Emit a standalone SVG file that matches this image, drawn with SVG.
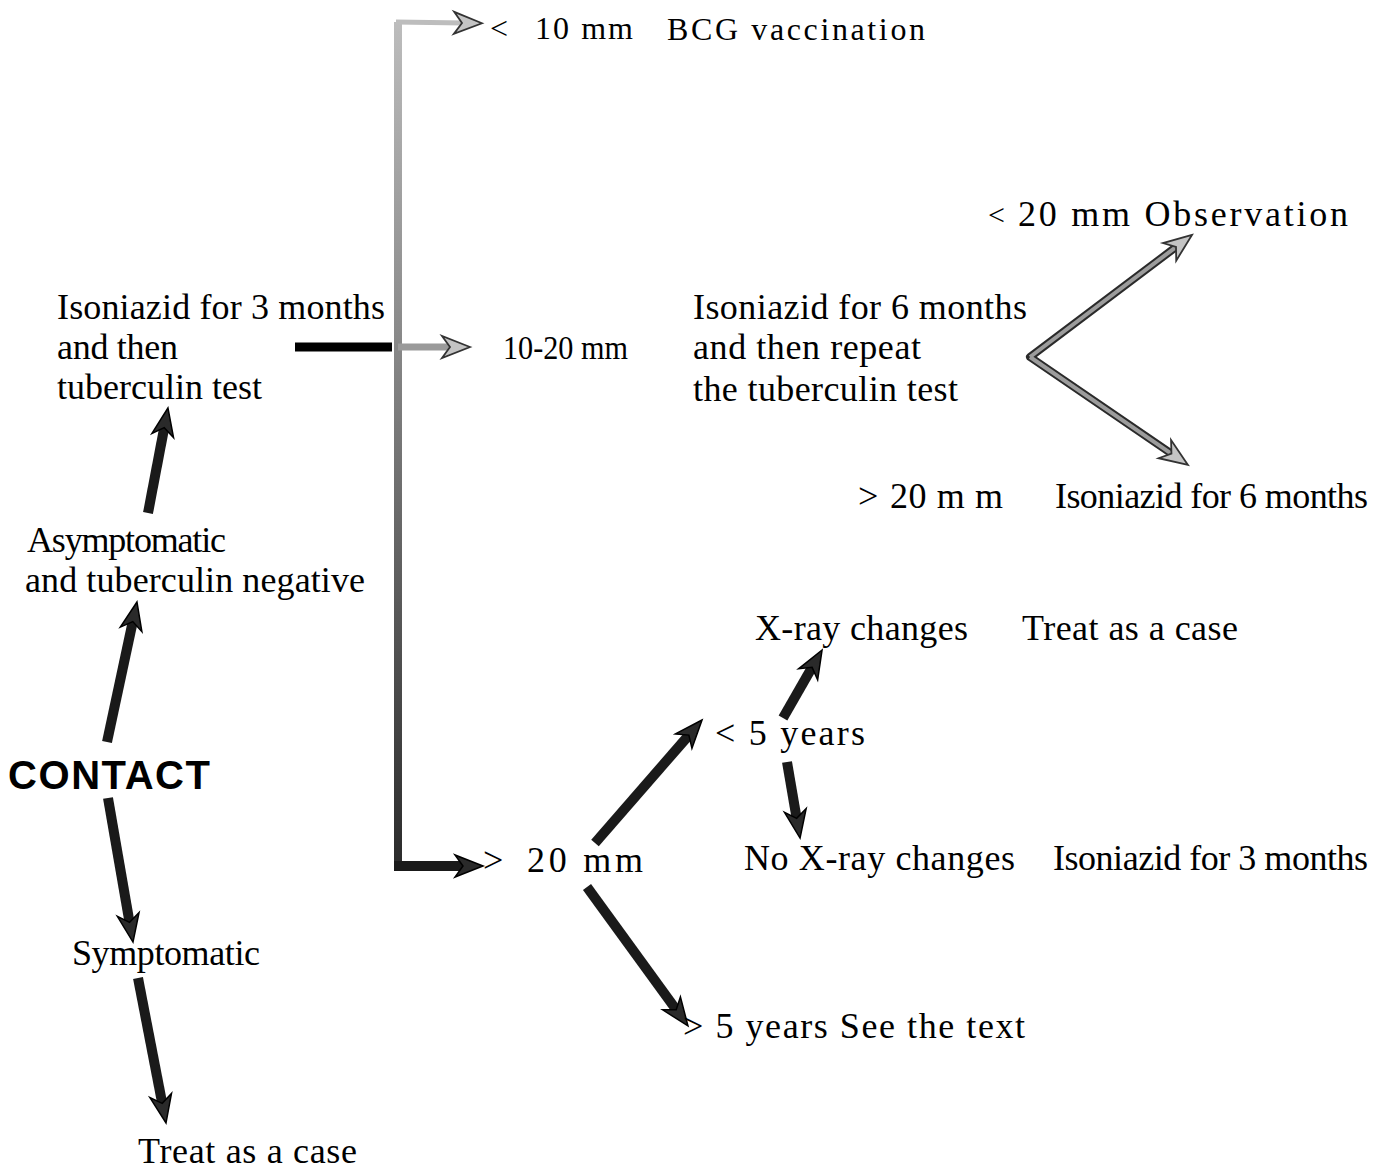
<svg xmlns="http://www.w3.org/2000/svg" width="1386" height="1171" viewBox="0 0 1386 1171">
<style>
.t{font-family:"Liberation Serif","Times New Roman",serif;font-size:36px;fill:#000}
.s{font-size:32px}
.c{font-family:"Liberation Sans",Arial,sans-serif;font-weight:bold;font-size:40px;fill:#000}
.dk{stroke:#1a1a1a;stroke-width:10;fill:none;marker-end:url(#hd)}
.lo{stroke:#2a2a2a;stroke-width:8;fill:none}
.li{stroke:#9c9c9c;stroke-width:4;fill:none;marker-end:url(#hl)}
</style>
<defs>
<marker id="hd" markerUnits="userSpaceOnUse" markerWidth="36" markerHeight="28" viewBox="-31 -14 36 28" refX="-18" refY="0" orient="auto">
<path d="M0,0 L-28,-11 L-20,0 L-28,11 Z" fill="#2a2a2a" stroke="#000" stroke-width="1.5"/>
</marker>
<marker id="hl" markerUnits="userSpaceOnUse" markerWidth="36" markerHeight="28" viewBox="-31 -14 36 28" refX="-18" refY="0" orient="auto">
<path d="M0,0 L-28,-11 L-20,0 L-28,11 Z" fill="#c4c4c4" stroke="#333" stroke-width="1.8"/>
</marker>
<linearGradient id="vg" gradientUnits="userSpaceOnUse" x1="0" y1="20" x2="0" y2="870">
<stop offset="0" stop-color="#bdbdbd"/>
<stop offset="0.4" stop-color="#858585"/>
<stop offset="1" stop-color="#2a2a2a"/>
</linearGradient>
</defs>

<g id="connectors">
<line x1="295" y1="347" x2="392" y2="347" stroke="#000" stroke-width="9"/>
<path d="M398,870 L398,22" stroke="url(#vg)" stroke-width="8" fill="none"/>
<line x1="396" y1="22" x2="464" y2="23" stroke="#bdbdbd" stroke-width="5" marker-end="url(#hl)"/>
<line x1="398" y1="347" x2="452" y2="347" stroke="#9a9a9a" stroke-width="7" marker-end="url(#hl)"/>
<line x1="394" y1="866" x2="465" y2="866" class="dk"/>
<line x1="148" y1="513" x2="164.6" y2="425.7" class="dk"/>
<line x1="107" y1="742" x2="133.2" y2="619.6" class="dk"/>
<line x1="108" y1="798" x2="129.9" y2="924.3" class="dk"/>
<line x1="138" y1="978" x2="162.6" y2="1105.3" class="dk"/>
<line x1="595" y1="843" x2="690.2" y2="733.6" class="dk"/>
<line x1="587" y1="887" x2="677.4" y2="1011.4" class="dk"/>
<line x1="783" y1="718" x2="813.1" y2="665.6" class="dk"/>
<line x1="787" y1="762" x2="797" y2="820.3" class="dk"/>
<path d="M1177.6,245.8 L1030,357 L1173.1,454.8" class="lo" stroke-linejoin="round"/>
<line x1="1030" y1="357" x2="1177.6" y2="245.8" class="li"/>
<line x1="1030" y1="357" x2="1173.1" y2="454.8" class="li"/>
</g>

<g id="contact"><text class="c" x="8" y="789" textLength="202">CONTACT</text></g>
<g id="asymptomatic">
<text class="t" x="27" y="552" textLength="199">Asymptomatic</text>
<text class="t" x="25" y="592" textLength="340">and tuberculin negative</text>
</g>
<g id="isoniazid3test">
<text class="t" x="57" y="319" textLength="328">Isoniazid for 3 months</text>
<text class="t" x="57" y="359" textLength="121">and then</text>
<text class="t" x="57" y="399" textLength="205">tuberculin test</text>
</g>
<g id="symptomatic"><text class="t" x="72" y="965" textLength="188">Symptomatic</text></g>
<g id="treat1"><text class="t" x="138" y="1163" textLength="219">Treat as a case</text></g>
<g id="lt10">
<text class="t s" x="490" y="39">&lt;</text>
<text class="t s" x="535" y="39" textLength="98">10 mm</text>
<text class="t s" x="667" y="40" textLength="258">BCG vaccination</text>
</g>
<g id="mm1020"><text class="t" x="503" y="359" style="font-size:33px" textLength="125" lengthAdjust="spacingAndGlyphs">10-20 mm</text></g>
<g id="isoniazid6repeat">
<text class="t" x="693" y="319" textLength="334">Isoniazid for 6 months</text>
<text class="t" x="693" y="359" textLength="228">and then repeat</text>
<text class="t" x="693" y="401" textLength="265">the tuberculin test</text>
</g>
<g id="lt20">
<text class="t" x="988" y="225" style="font-size:30px">&lt;</text>
<text class="t" x="1018" y="226" textLength="330">20 mm Observation</text>
</g>
<g id="gt20b">
<text class="t" x="858" y="508">&gt;</text>
<text class="t" x="890" y="508" textLength="113">20 m m</text>
<text class="t" x="1055" y="508" textLength="313">Isoniazid for 6 months</text>
</g>
<g id="gt20">
<text class="t" x="483" y="872">&gt;</text>
<text class="t" x="527" y="872" textLength="116">20 mm</text>
</g>
<g id="lt5"><text class="t" x="715" y="745" textLength="150">&lt; 5 years</text></g>
<g id="xray">
<text class="t" x="755" y="640" textLength="213">X-ray changes</text>
<text class="t" x="1022" y="640" textLength="216">Treat as a case</text>
</g>
<g id="noxray">
<text class="t" x="744" y="870" textLength="271">No X-ray changes</text>
<text class="t" x="1053" y="870" textLength="315">Isoniazid for 3 months</text>
</g>
<g id="gt5"><text class="t" x="683" y="1038" textLength="342">&gt; 5 years See the text</text></g>
</svg>
